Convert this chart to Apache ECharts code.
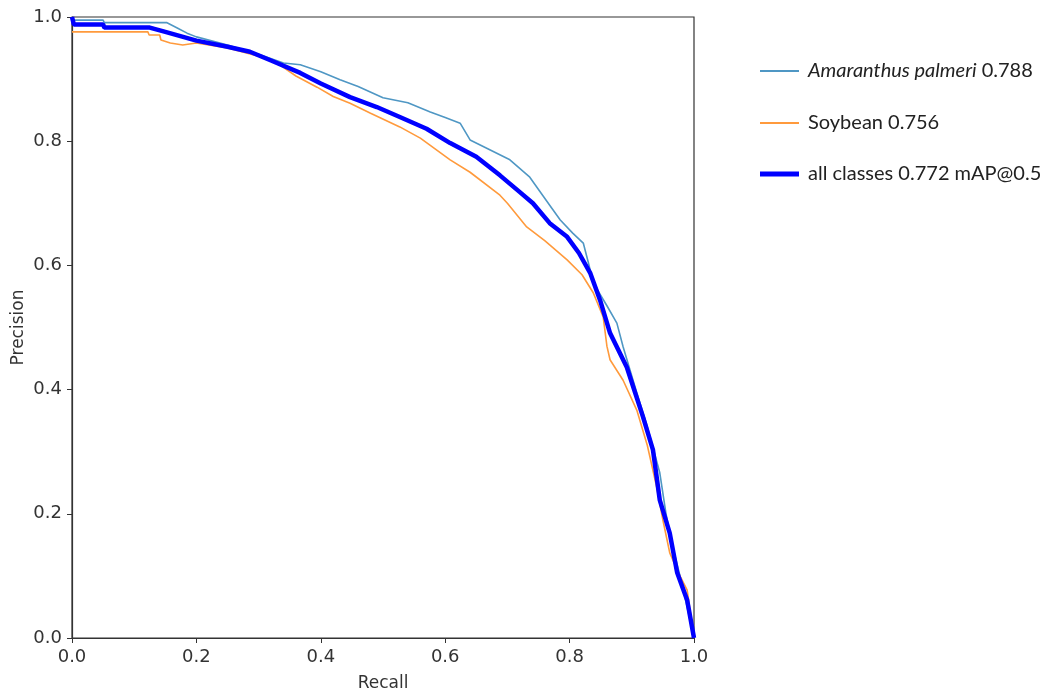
<!DOCTYPE html>
<html><head><meta charset="utf-8">
<script src="https://cdn.jsdelivr.net/npm/echarts@6/dist/echarts.min.js"></script>
<style>html,body{margin:0;padding:0;background:#fff}#c{width:1050px;height:694px}</style>
</head><body><div id="c"></div>
<script>
const seriesNames = ['Amaranthus palmeri 0.788', 'Soybean 0.756', 'all classes 0.772 mAP@0.5'];
const xTicks = [0, 0.2, 0.4, 0.6, 0.8, 1.0];
const amaranthus = [[0,1.0],[0.002,0.995],[0.05,0.995],[0.052,0.991],[0.152,0.991],[0.17,0.982],[0.185,0.974],[0.2,0.968],[0.25,0.955],[0.3,0.94],[0.34,0.926],[0.367,0.923],[0.4,0.912],[0.431,0.899],[0.46,0.888],[0.5,0.870],[0.54,0.862],[0.576,0.847],[0.6,0.838],[0.624,0.829],[0.64,0.802],[0.67,0.787],[0.704,0.770],[0.736,0.742],[0.768,0.697],[0.785,0.673],[0.805,0.652],[0.822,0.636],[0.83,0.605],[0.838,0.572],[0.86,0.535],[0.876,0.507],[0.886,0.469],[0.908,0.395],[0.925,0.34],[0.945,0.266],[0.955,0.2],[0.965,0.15],[0.98,0.09],[1.0,0.0]];
const soybean = [[0,0.976],[0.122,0.976],[0.124,0.971],[0.141,0.971],[0.143,0.963],[0.158,0.958],[0.178,0.955],[0.2,0.958],[0.25,0.95],[0.3,0.937],[0.334,0.923],[0.36,0.905],[0.394,0.887],[0.42,0.872],[0.447,0.861],[0.48,0.845],[0.527,0.823],[0.56,0.805],[0.608,0.770],[0.64,0.75],[0.688,0.713],[0.7,0.7],[0.731,0.662],[0.76,0.64],[0.796,0.609],[0.82,0.585],[0.838,0.556],[0.854,0.517],[0.86,0.47],[0.865,0.448],[0.886,0.415],[0.908,0.367],[0.925,0.31],[0.94,0.243],[0.95,0.19],[0.961,0.137],[0.975,0.105],[0.989,0.077],[1.0,0.0]];
const allClasses = [[0,1.0],[0.003,0.988],[0.05,0.988],[0.052,0.983],[0.125,0.983],[0.15,0.976],[0.2,0.962],[0.25,0.952],[0.286,0.944],[0.32,0.93],[0.367,0.910],[0.4,0.893],[0.447,0.871],[0.49,0.855],[0.527,0.839],[0.57,0.82],[0.608,0.797],[0.65,0.775],[0.688,0.745],[0.72,0.718],[0.741,0.700],[0.768,0.668],[0.796,0.646],[0.815,0.62],[0.833,0.588],[0.849,0.544],[0.865,0.491],[0.892,0.436],[0.918,0.356],[0.934,0.303],[0.945,0.222],[0.961,0.169],[0.973,0.105],[0.989,0.061],[1.0,0.0]];

const colors = ['#4f97c4', '#ff9a3c', '#0000ff'];
const widths = [1.6, 1.6, 4.5];
const datasets = [amaranthus, soybean, allClasses];

const legendFont = 'Lato, "Open Sans", sans-serif';
const axisFont = '"DejaVu Sans", sans-serif';
function legendFmt(name) {
  if (name.indexOf('Amaranthus palmeri') === 0) {
    return '{i|Amaranthus palmeri}{n|' + name.slice('Amaranthus palmeri'.length) + '}';
  }
  return '{n|' + name + '}';
}
const legendTops = [56, 108, 159];
const legends = seriesNames.map((n, i) => ({
  data: [{name: n, icon: 'rect'}],
  left: 755, top: legendTops[i],
  itemWidth: 39, itemHeight: i === 2 ? 5 : 2,
  itemGap: 10,
  formatter: legendFmt,
  selectedMode: false,
  textStyle: {
    color: '#222', fontSize: 20, fontFamily: legendFont, padding: [0, 0, 0, 4],
    rich: {
      i: {fontStyle: 'italic', fontSize: 20, fontFamily: legendFont, color: '#222'},
      n: {fontSize: 20, fontFamily: legendFont, color: '#222'}
    }
  }
}));

const chart = echarts.init(document.getElementById('c'), null, {renderer: 'canvas'});
chart.setOption({
  animation: false,
  backgroundColor: '#fff',
  grid: {left: 72, right: 356, top: 17, bottom: 56, show: true, borderColor: '#333', borderWidth: 1.2, backgroundColor: 'transparent', containLabel: false, outerBoundsMode: 'none'},
  legend: legends,
  xAxis: {
    type: 'value', min: 0, max: 1, interval: 0.2,
    name: 'Recall', nameLocation: 'middle', nameGap: 37, nameMoveOverlap: false,
    nameTextStyle: {fontSize: 17, fontFamily: axisFont, color: '#333'},
    axisLine: {show: true, onZero: false, lineStyle: {color: '#333', width: 1.2}},
    axisTick: {show: true, length: 5, lineStyle: {color: '#333'}},
    axisLabel: {fontSize: 18, fontFamily: axisFont, color: '#333', margin: 10,
      formatter: v => xTicks.some(t => Math.abs(t - v) < 1e-9) ? v.toFixed(1) : ''},
    splitLine: {show: false}
  },
  yAxis: {
    type: 'value', min: 0, max: 1, interval: 0.2,
    name: 'Precision', nameLocation: 'middle', nameGap: 45, nameRotate: 90, nameMoveOverlap: false,
    nameTextStyle: {fontSize: 17, fontFamily: axisFont, color: '#333'},
    axisLine: {show: true, onZero: false, lineStyle: {color: '#333', width: 1.2}},
    axisTick: {show: true, length: 5, lineStyle: {color: '#333'}},
    axisLabel: {fontSize: 18, fontFamily: axisFont, color: '#333', margin: 10,
      formatter: v => v.toFixed(1)},
    splitLine: {show: false}
  },
  series: seriesNames.map((n, i) => ({
    name: n, type: 'line', data: datasets[i], showSymbol: false, symbol: 'none',
    z: i === 2 ? 5 : 3,
    itemStyle: {color: colors[i]},
    lineStyle: {color: colors[i], width: widths[i]}
  }))
});
</script></body></html>
